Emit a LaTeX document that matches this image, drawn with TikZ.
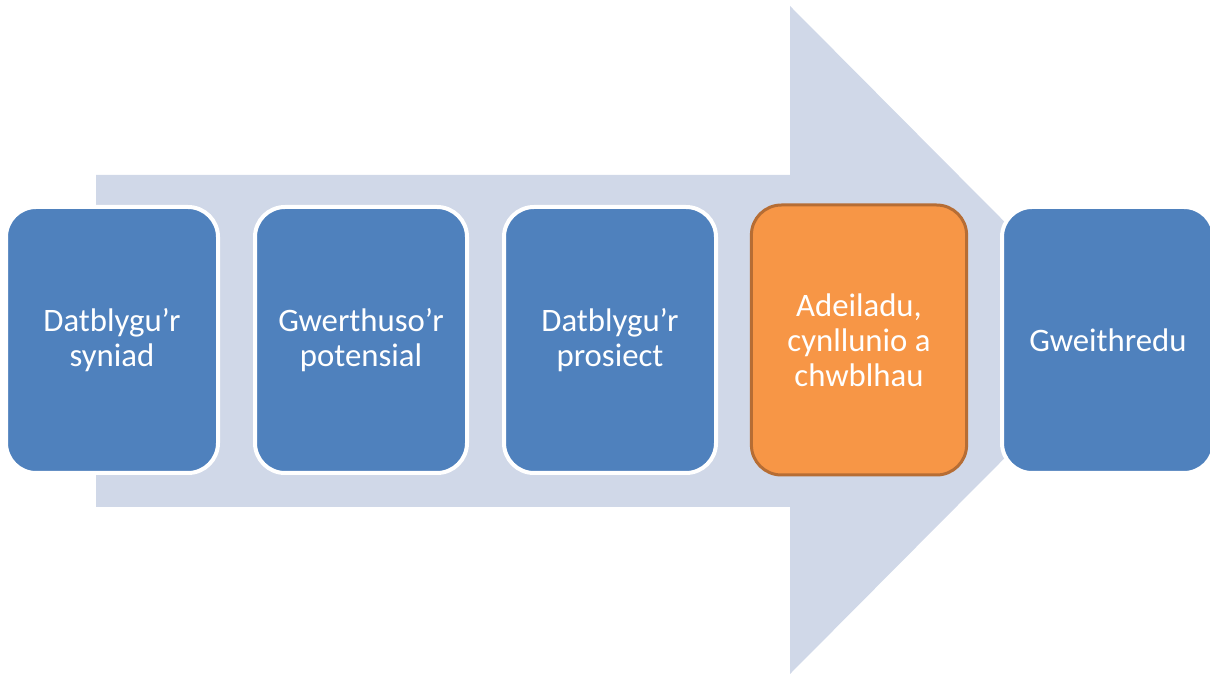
\documentclass[tikz,border=0pt]{standalone}
\usepackage{fontspec}
\setmainfont{Carlito}
\definecolor{bloque}{RGB}{79,129,189}
\definecolor{naranja}{RGB}{247,150,70}
\definecolor{borde}{RGB}{182,109,52}
\definecolor{fondo}{RGB}{208,216,232}
\begin{document}
\begin{tikzpicture}

	%DEFINITIONS
	\tikzstyle{every node}=[font=\fontsize{23.3}{24.8}\selectfont, text=white]
	\tikzstyle{block} = [draw=white, rounded corners=0.75cm, align=center, line width=0.1cm, fill=bloque, minimum width=5.3cm, minimum height=6.65cm]
	\tikzstyle{current} = [block, draw=borde, fill=naranja, line width=0.075cm, minimum width=5.38cm, minimum height=6.75cm]
	\tikzstyle{flecha} = [fill=fondo, draw=none]

	\useasboundingbox (0,0) rectangle (30.25,16.825);

	%ARROW
	\fill[flecha] (2.4,4.15) -- (2.4,12.45) -- (19.75,12.45) -- (19.75,16.675) -- (28.05,8.325) -- (19.75,-0.025) -- (19.75,4.15) -- cycle;

	%BLOCKS
	\draw(2.8,8.325) node[block](1){Datblygu’r\\syniad};
	\draw(9.025,8.325) node[block](2){Gwerthuso’r\\potensial};
	\draw(15.25,8.325) node[block](3){Datblygu’r\\prosiect};
	\draw(21.475,8.325) node[current](4){Adeiladu,\\cynllunio a\\chwblhau};
	\draw(27.7,8.325) node[block](5){Gweithredu};
\end{tikzpicture}
\end{document}
